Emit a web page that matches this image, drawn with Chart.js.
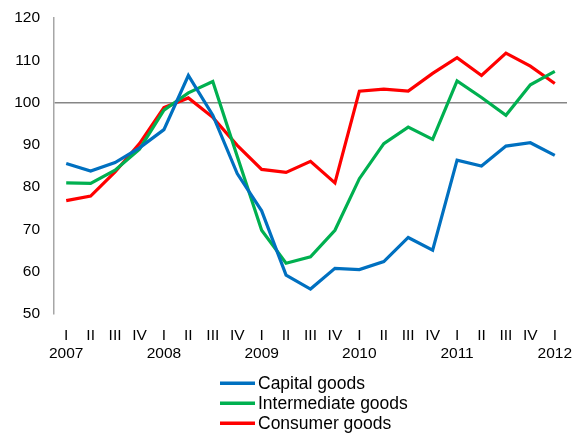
<!DOCTYPE html>
<html>
<head>
<meta charset="utf-8">
<script src="https://cdn.jsdelivr.net/npm/chart.js@4"></script>
<style>
html,body{margin:0;padding:0;background:#fff;}
#wrap{width:577px;height:433px;}
</style>
</head>
<body>
<div id="wrap"><canvas id="c" width="577" height="433"></canvas></div>
<script>
const quarters = ["I","II","III","IV","I","II","III","IV","I","II","III","IV","I","II","III","IV","I","II","III","IV","I"];
const years = ["2007","","","","2008","","","","2009","","","","2010","","","","2011","","","","2012"];
const capitalGoods = [85.6,83.8,85.8,89.3,93.6,106.4,97.0,83.2,74.4,59.2,55.9,60.8,60.5,62.4,68.1,65.1,86.4,85.0,89.7,90.5,87.5];
const intermediateGoods = [81.0,80.9,84.0,89.0,98.2,102.3,105.0,87.3,69.8,62.0,63.5,69.8,82.0,90.3,94.2,91.3,105.1,101.2,97.0,104.2,107.4];
const consumerGoods = [76.8,77.9,83.6,90.3,98.8,101.1,96.5,89.9,84.2,83.5,86.1,81.0,102.7,103.2,102.7,106.9,110.6,106.4,111.7,108.6,104.5];
const seriesNames = ["Capital goods","Intermediate goods","Consumer goods"];
const seriesColors = ["#0070C0","#00B050","#FF0000"];
const yTicks = {min:50, max:120, step:10};
const referenceValue = 100;

const labels = quarters.map((q,i)=> years[i] ? [q, years[i]] : q);
const seriesData = [capitalGoods, intermediateGoods, consumerGoods];

const legendPlugin = {
  id:'customLegend',
  afterDraw(chart){
    const ctx = chart.ctx;
    ctx.save();
    ctx.font = '17.5px "Liberation Sans", Arial, sans-serif';
    ctx.textBaseline = 'middle';
    ctx.textAlign = 'left';
    chart.data.datasets.forEach((ds,i)=>{
      const y = 383.3 + i*20;
      ctx.strokeStyle = ds.borderColor;
      ctx.lineWidth = 3.5;
      ctx.beginPath();
      ctx.moveTo(220,y);
      ctx.lineTo(255,y);
      ctx.stroke();
      ctx.fillStyle = '#000';
      ctx.fillText(ds.label, 258, y+1);
    });
    ctx.restore();
  }
};

new Chart(document.getElementById('c'), {
  type:'line',
  data:{
    labels: labels,
    datasets: seriesData.map((d,i)=>({
      label: seriesNames[i],
      data: d,
      borderColor: seriesColors[i],
      backgroundColor: seriesColors[i],
      borderWidth: 3.2,
      pointRadius: 0,
      tension: 0,
      fill: false
    }))
  },
  options:{
    responsive:false,
    animation:false,
    devicePixelRatio:1,
    layout:{padding:{top:18, right:10, left:0, bottom:0}},
    plugins:{legend:{display:false}, tooltip:{enabled:false}},
    scales:{
      x:{
        offset:true,
        grid:{display:false},
        border:{display:false},
        ticks:{
          autoSkip:false, maxRotation:0, minRotation:0,
          color:'#000', padding:4,
          font:{family:'"Liberation Sans", Arial, sans-serif', size:15.5, lineHeight:1.19}
        },
        afterFit(s){ s.height = 119; }
      },
      y:{
        min:yTicks.min, max:yTicks.max,
        grid:{
          drawTicks:false,
          color: c => (c.tick && c.tick.value === referenceValue) ? '#868686' : 'rgba(0,0,0,0)',
          lineWidth:1.5
        },
        border:{display:true, color:'#a6a6a6', width:1.5},
        ticks:{
          stepSize:yTicks.step, color:'#000', padding:14,
          font:{family:'"Liberation Sans", Arial, sans-serif', size:15.5}
        },
        afterFit(s){ s.width = 54; s.paddingTop = 0; s.paddingBottom = 0; }
      }
    }
  },
  plugins:[legendPlugin]
});
</script>
</body>
</html>
